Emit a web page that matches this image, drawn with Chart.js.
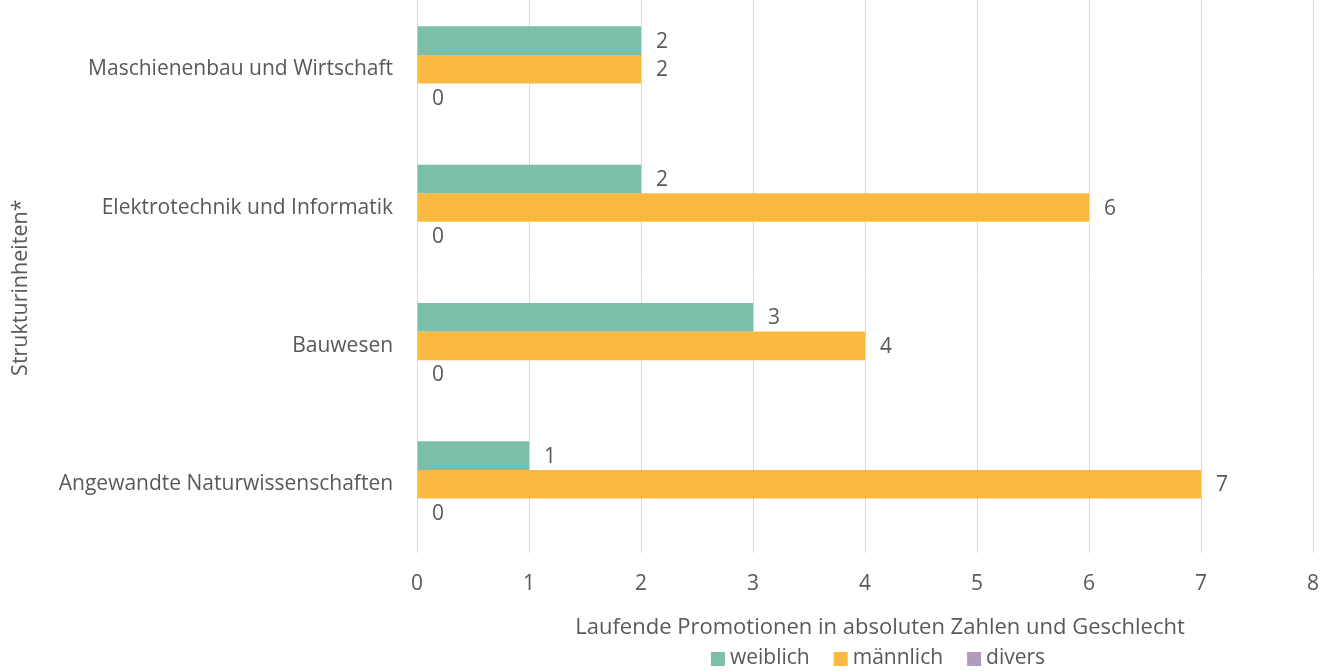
<!DOCTYPE html>
<html>
<head>
<meta charset="utf-8">
<script src="https://cdn.jsdelivr.net/npm/chart.js@4.4.0/dist/chart.umd.min.js"></script>
<style>
  html, body { margin: 0; padding: 0; background: #fff; }
  #wrap { width: 1327px; height: 671px; }
</style>
</head>
<body>
<div id="wrap"><canvas id="chart"></canvas></div>
<script>
// chart data
const categories = [
    'Maschienenbau und Wirtschaft',
    'Elektrotechnik und Informatik',
    'Bauwesen',
    'Angewandte Naturwissenschaften'
];
const weiblich = [2, 2, 3, 1];
const maennlich = [2, 6, 4, 7];
const divers = [0, 0, 0, 0];

const xTitle = 'Laufende Promotionen in absoluten Zahlen und Geschlecht';
const yTitle = 'Strukturinheiten*';

const textColor = '#595959';
const fontFamily = '"Open Sans", sans-serif';
const fontSize = 21;

// draws the value next to each bar end
const valueLabels = {
    id: 'valueLabels',
    afterDatasetsDraw(chart) {
        const ctx = chart.ctx;
        ctx.save();
        ctx.font = fontSize + 'px ' + fontFamily;
        ctx.fillStyle = textColor;
        ctx.textAlign = 'left';
        ctx.textBaseline = 'middle';
        chart.data.datasets.forEach((ds, i) => {
            const meta = chart.getDatasetMeta(i);
            meta.data.forEach((bar, j) => {
                ctx.fillText(String(ds.data[j]), bar.x + 15, bar.y + 1);
            });
        });
        ctx.restore();
    }
};

// axis titles: chart.js keeps the room, we draw them a bit off-center like the original
const axisTitles = {
    id: 'axisTitles',
    afterDraw(chart) {
        const ctx = chart.ctx;
        const area = chart.chartArea;
        const xs = chart.scales.x;
        const ys = chart.scales.y;
        ctx.save();
        ctx.fillStyle = textColor;
        ctx.textAlign = 'center';
        ctx.textBaseline = 'middle';
        ctx.font = '22px ' + fontFamily;
        ctx.fillText(xTitle, (area.left + area.right) / 2 + 15, xs.bottom - 13);
        ctx.font = '21.5px ' + fontFamily;
        ctx.translate(ys.left + 19, (area.top + area.bottom) / 2 + 11);
        ctx.rotate(-Math.PI / 2);
        ctx.fillText(yTitle, 0, 0);
        ctx.restore();
    }
};

// simple legend at the bottom, centered a bit right of the plot middle
const bottomLegend = {
    id: 'bottomLegend',
    afterDraw(chart) {
        const ctx = chart.ctx;
        const area = chart.chartArea;
        const box = 14, gapText = 5, gapItem = 24;
        ctx.save();
        ctx.font = fontSize + 'px ' + fontFamily;
        ctx.textBaseline = 'middle';
        ctx.textAlign = 'left';
        const items = chart.data.datasets.map(ds => ({
            text: ds.label,
            color: ds.backgroundColor,
            w: ctx.measureText(ds.label).width
        }));
        let total = 0;
        items.forEach((it, i) => {
            total += box + gapText + it.w + (i < items.length - 1 ? gapItem : 0);
        });
        let x = (area.left + area.right) / 2 + 13 - total / 2;
        const y = chart.height - 12;
        items.forEach(it => {
            ctx.fillStyle = it.color;
            ctx.fillRect(x, y - box / 2, box, box);
            x += box + gapText;
            ctx.fillStyle = textColor;
            ctx.fillText(it.text, x, y - 1);
            x += it.w + gapItem;
        });
        ctx.restore();
    }
};

const ctx = document.getElementById('chart').getContext('2d');
new Chart(ctx, {
    type: 'bar',
    data: {
        labels: categories,
        datasets: [
            {
                label: 'weiblich',
                data: weiblich,
                backgroundColor: '#7bbfab'
            },
            {
                label: 'männlich',
                data: maennlich,
                backgroundColor: '#fbb941'
            },
            {
                label: 'divers',
                data: divers,
                backgroundColor: '#b09bbd'
            }
        ]
    },
    options: {
        indexAxis: 'y',
        responsive: true,
        maintainAspectRatio: false,
        animation: false,
        datasets: {
            bar: {
                barPercentage: 1,
                categoryPercentage: 0.62
            }
        },
        layout: {
            padding: { top: 0, right: 14, bottom: 30, left: 2 }
        },
        scales: {
            x: {
                min: 0,
                max: 8,
                ticks: {
                    stepSize: 1,
                    color: textColor,
                    font: { family: fontFamily, size: fontSize },
                    padding: 18
                },
                grid: {
                    color: '#d9d9d9',
                    lineWidth: 1,
                    drawTicks: false
                },
                border: { display: false },
                title: {
                    display: true,
                    text: xTitle,
                    color: 'transparent',
                    font: { family: fontFamily, size: 22 },
                    padding: { top: 0, bottom: 0 }
                },
                // no extra side room for the end tick labels
                afterFit(scale) {
                    scale.paddingLeft = 0;
                    scale.paddingRight = 0;
                }
            },
            y: {
                ticks: {
                    color: textColor,
                    font: { family: fontFamily, size: fontSize },
                    padding: 24
                },
                grid: { display: false, drawTicks: false },
                border: { display: false },
                title: {
                    display: true,
                    text: yTitle,
                    color: 'transparent',
                    font: { family: fontFamily, size: 21.5 },
                    padding: { top: 6, bottom: 1 }
                },
                // plot starts at the very top, labels need no extra room
                afterFit(scale) {
                    scale.paddingTop = 0;
                    scale.paddingBottom = 0;
                }
            }
        },
        plugins: {
            legend: { display: false },
            tooltip: { enabled: false }
        }
    },
    plugins: [valueLabels, axisTitles, bottomLegend]
});
</script>
</body>
</html>
